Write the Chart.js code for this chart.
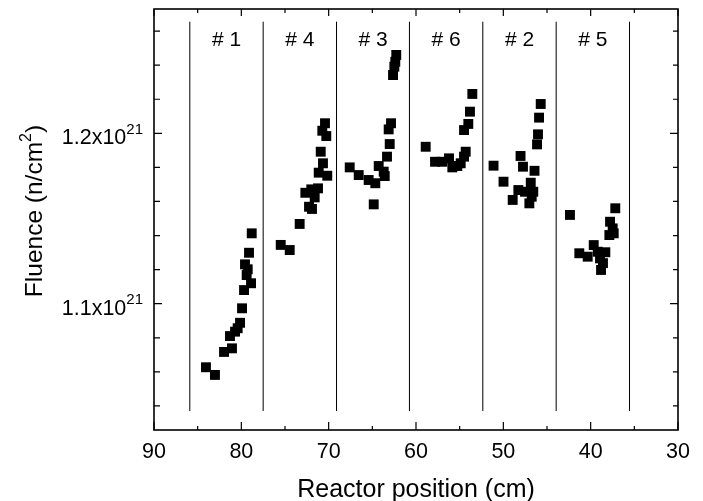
<!DOCTYPE html>
<html><head><meta charset="utf-8">
<script src="https://cdn.jsdelivr.net/npm/chart.js@4/dist/chart.umd.min.js"></script>
<style>html,body{margin:0;padding:0;background:#fff;}canvas{display:block;}</style>
</head><body>
<canvas id="c" width="703" height="501"></canvas>
<script>
// ---- axis / tick data ----
const xTicks = [90, 80, 70, 60, 50, 40, 30];
const xMinorTicks = [85, 75, 65, 55, 45, 35];
const yTicks = [1.1, 1.2];
const yTickLabels = ['1.1x10', '1.2x10'];
const yTickExponent = '21';
const yMinorTicks = [1.04, 1.06, 1.08, 1.12, 1.14, 1.16, 1.18, 1.22, 1.24, 1.26];
const xTitle = 'Reactor position (cm)';
const yTitleMain = 'Fluence (n/cm';
const yTitleSup = '2';
const yTitleEnd = ')';

// ---- group separators and labels ----
const groupLabels = ['# 1', '# 4', '# 3', '# 6', '# 2', '# 5'];
const separatorPositions = [85.9, 77.5, 69.1, 60.75, 52.35, 43.95, 35.55];
const separatorBottom = 1.037;
const separatorTop = 1.2655;
const groupLabelLevel = 1.2514;

// ---- measured points (position in cm, fluence in 1e21 n/cm^2) ----
const pos1 = [78.81, 79.12, 79.58, 79.27, 79.39, 78.89, 79.69, 79.92, 80.15, 80.42, 80.72, 81.30, 81.07, 81.98, 84.05, 83.02];
const flu1 = [1.1413, 1.1299, 1.1231, 1.1202, 1.1168, 1.1120, 1.1080, 1.0973, 1.0888, 1.0856, 1.0836, 1.0810, 1.0738, 1.0717, 1.0627, 1.0582];
const pos4 = [70.42, 70.73, 70.27, 70.91, 70.65, 71.14, 70.16, 71.22, 71.99, 72.67, 71.60, 72.25, 71.91, 73.32, 75.49, 74.46];
const flu4 = [1.2059, 1.2015, 1.1984, 1.1892, 1.1824, 1.1769, 1.1751, 1.1677, 1.1671, 1.1651, 1.1624, 1.1569, 1.1556, 1.1468, 1.1345, 1.1315];
const pos3 = [62.26, 62.37, 62.48, 62.63, 62.86, 63.13, 63.01, 63.32, 67.59, 64.27, 66.56, 63.70, 63.58, 65.42, 64.66, 64.84];
const flu3 = [1.2460, 1.2420, 1.2391, 1.2342, 1.2059, 1.2023, 1.1937, 1.1863, 1.1800, 1.1808, 1.1755, 1.1775, 1.1749, 1.1726, 1.1707, 1.1583];
const pos6 = [53.55, 53.82, 54.01, 54.50, 58.89, 54.31, 57.82, 56.99, 56.22, 55.84, 54.88, 55.27, 54.50];
const flu6 = [1.2231, 1.2127, 1.2055, 1.2019, 1.1921, 1.1892, 1.1833, 1.1833, 1.1853, 1.1800, 1.1824, 1.1808, 1.1863];
const pos2 = [45.72, 45.91, 46.03, 46.14, 48.03, 51.12, 47.75, 46.43, 49.98, 46.86, 48.28, 47.52, 46.57, 46.75, 48.93, 47.02];
const flu2 = [1.2172, 1.2092, 1.1994, 1.1935, 1.1867, 1.1810, 1.1804, 1.1780, 1.1716, 1.1710, 1.1667, 1.1657, 1.1657, 1.1628, 1.1609, 1.1589];
const pos5 = [37.18, 42.37, 37.78, 37.48, 37.86, 37.36, 39.65, 41.30, 40.34, 39.19, 38.32, 38.93, 38.81, 38.59];
const flu5 = [1.1560, 1.1521, 1.1481, 1.1442, 1.1403, 1.1413, 1.1344, 1.1296, 1.1276, 1.1305, 1.1302, 1.1266, 1.1198, 1.1238];

const groups = [[pos1, flu1], [pos4, flu4], [pos3, flu3], [pos6, flu6], [pos2, flu2], [pos5, flu5]];
const points = [];
groups.forEach(([p, f]) => p.forEach((x, i) => points.push({x: x, y: f[i]})));

const FONT = '"Liberation Sans", Arial, Helvetica, sans-serif';

const datasets = [{
  type: 'scatter',
  data: points,
  pointStyle: 'rect',
  pointRadius: 7,
  pointHoverRadius: 7,
  backgroundColor: '#000',
  borderWidth: 0,
  order: 0
}];
separatorPositions.forEach(x => datasets.push({
  type: 'line',
  data: [{x: x, y: separatorBottom}, {x: x, y: separatorTop}],
  borderColor: '#000',
  borderWidth: 1,
  pointRadius: 0,
  fill: false,
  order: 1
}));

const frame = {
  id: 'frame',
  afterDraw(chart) {
    const ctx = chart.ctx, xs = chart.scales.x, ys = chart.scales.y, a = chart.chartArea;
    ctx.save();
    ctx.strokeStyle = '#000';
    ctx.lineWidth = 1.6;
    ctx.strokeRect(a.left, a.top, a.right - a.left, a.bottom - a.top);
    ctx.lineWidth = 1.2;
    ctx.beginPath();
    xTicks.forEach(v => {
      const p = xs.getPixelForValue(v);
      ctx.moveTo(p, a.bottom); ctx.lineTo(p, a.bottom - 8);
      ctx.moveTo(p, a.top); ctx.lineTo(p, a.top + 7);
    });
    xMinorTicks.forEach(v => {
      const p = xs.getPixelForValue(v);
      ctx.moveTo(p, a.bottom); ctx.lineTo(p, a.bottom - 4);
      ctx.moveTo(p, a.top); ctx.lineTo(p, a.top + 4);
    });
    yTicks.forEach(v => {
      const p = ys.getPixelForValue(v);
      ctx.moveTo(a.left, p); ctx.lineTo(a.left + 8, p);
      ctx.moveTo(a.right, p); ctx.lineTo(a.right - 8, p);
    });
    yMinorTicks.forEach(v => {
      const p = ys.getPixelForValue(v);
      ctx.moveTo(a.left, p); ctx.lineTo(a.left + 6, p);
      ctx.moveTo(a.right, p); ctx.lineTo(a.right - 5, p);
    });
    ctx.stroke();

    ctx.fillStyle = '#000';
    // x tick labels
    ctx.font = '21.5px ' + FONT;
    ctx.textAlign = 'center';
    ctx.textBaseline = 'alphabetic';
    xTicks.forEach(v => ctx.fillText(String(v), xs.getPixelForValue(v), a.bottom + 27.5));

    // y tick labels with exponent
    yTicks.forEach((v, i) => {
      const p = ys.getPixelForValue(v);
      ctx.font = '15px ' + FONT;
      ctx.textAlign = 'right';
      const supRight = a.left - 11;
      const sw = ctx.measureText(yTickExponent).width;
      ctx.fillText(yTickExponent, supRight, p + 0.5);
      ctx.font = '21.5px ' + FONT;
      ctx.fillText(yTickLabels[i], supRight - sw, p + 11);
    });

    // group labels
    ctx.font = '21px ' + FONT;
    ctx.textAlign = 'center';
    const ly = ys.getPixelForValue(groupLabelLevel);
    groupLabels.forEach((t, i) => {
      const cx = (xs.getPixelForValue(separatorPositions[i]) + xs.getPixelForValue(separatorPositions[i + 1])) / 2;
      ctx.fillText(t, cx, ly);
    });

    // x title
    ctx.font = '25px ' + FONT;
    ctx.textAlign = 'center';
    ctx.fillText(xTitle, (a.left + a.right) / 2, 497);

    // y title (rotated)
    ctx.save();
    ctx.translate(42, 211);
    ctx.rotate(-Math.PI / 2);
    ctx.textAlign = 'left';
    ctx.font = '24.5px ' + FONT;
    const w1 = ctx.measureText(yTitleMain).width;
    const w3 = ctx.measureText(yTitleEnd).width;
    ctx.font = '16px ' + FONT;
    const w2 = ctx.measureText(yTitleSup).width;
    const total = w1 + w2 + w3;
    let x0 = -total / 2;
    ctx.font = '24.5px ' + FONT;
    ctx.fillText(yTitleMain, x0, 0);
    ctx.font = '16px ' + FONT;
    ctx.fillText(yTitleSup, x0 + w1, -11);
    ctx.font = '24.5px ' + FONT;
    ctx.fillText(yTitleEnd, x0 + w1 + w2, 0);
    ctx.restore();

    ctx.restore();
  }
};

new Chart(document.getElementById('c'), {
  type: 'scatter',
  data: {datasets: datasets},
  options: {
    responsive: false,
    animation: false,
    events: [],
    layout: {padding: {left: 154, right: 25, top: 9, bottom: 71}},
    plugins: {legend: {display: false}, tooltip: {enabled: false}},
    scales: {
      x: {type: 'linear', reverse: true, min: 30, max: 90, display: false},
      y: {type: 'linear', min: 1.02588, max: 1.27295, display: false}
    }
  },
  plugins: [frame]
});
</script>
</body></html>
